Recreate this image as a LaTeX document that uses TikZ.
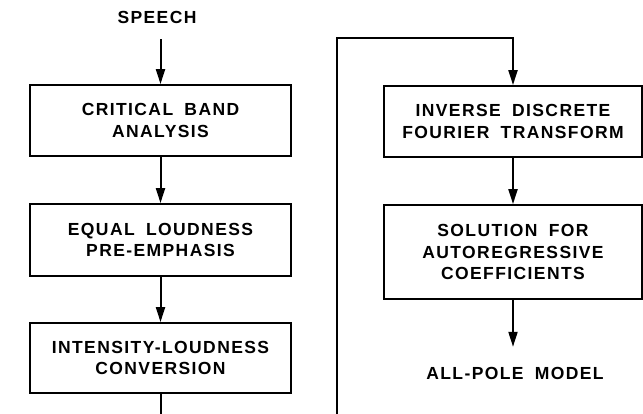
\documentclass[tikz,border=0pt]{standalone}
\usepackage{fontspec}
\setmainfont{Liberation Sans}[LetterSpace=8,WordSpace=1.8]
\usetikzlibrary{arrows.meta,positioning}
\tikzstyle{flow}=[
  >={Triangle[length=15pt,width=9pt]}, line width=2pt, x=1pt, y=-1pt,
  font=\fontsize{17.5}{21.5}\selectfont\bfseries
]
\tikzstyle{block}=[
  draw, rectangle, line width=1.8pt, align=center, inner sep=0pt, minimum height=71pt
]
\tikzstyle{signal}=[
  inner sep=0pt, align=center
]
\begin{document}
\begin{tikzpicture}[flow]
    \useasboundingbox (0,0) rectangle (643,414);
    \clip (0,0) rectangle (643,414);
      % left column
      \node (speech) at (157,17) [signal] {SPEECH};
      \node (cba) at (160.5,120.5) [block, minimum width=261pt] {CRITICAL BAND\\ANALYSIS};
      \node (elp) at (160.5,240) [block, minimum width=261pt, minimum height=72pt] {EQUAL LOUDNESS\\PRE-EMPHASIS};
      \node (ilc) at (160.5,358) [block, minimum width=261pt, minimum height=70pt] {INTENSITY-LOUDNESS\\CONVERSION};
      % right column
      \node (idft) at (513,121.5) [block, minimum width=258pt] {INVERSE DISCRETE\\FOURIER TRANSFORM};
      \node (sac) at (513,252) [block, minimum width=258pt, minimum height=94pt] {SOLUTION FOR\\AUTOREGRESSIVE\\COEFFICIENTS};
      \node (apm) at (515,373) [signal] {ALL-POLE MODEL};
      \coordinate (loopbot) at (337,440);
      \coordinate (looptop) at (337,38);
      \draw [->, shorten <=15pt] (speech.south -| cba.north) -- (cba.north);
      \draw [->] (cba) -- (elp);
      \draw [->] (elp) -- (ilc);
      \draw [->] (ilc.south) -- (ilc.south |- loopbot) -- (loopbot) -- (looptop) -| (idft.north);
      \draw [->] (idft) -- (sac);
      \draw [->, shorten >=19pt] (sac.south) -- (sac.south |- apm.north);
\end{tikzpicture}
\end{document}
